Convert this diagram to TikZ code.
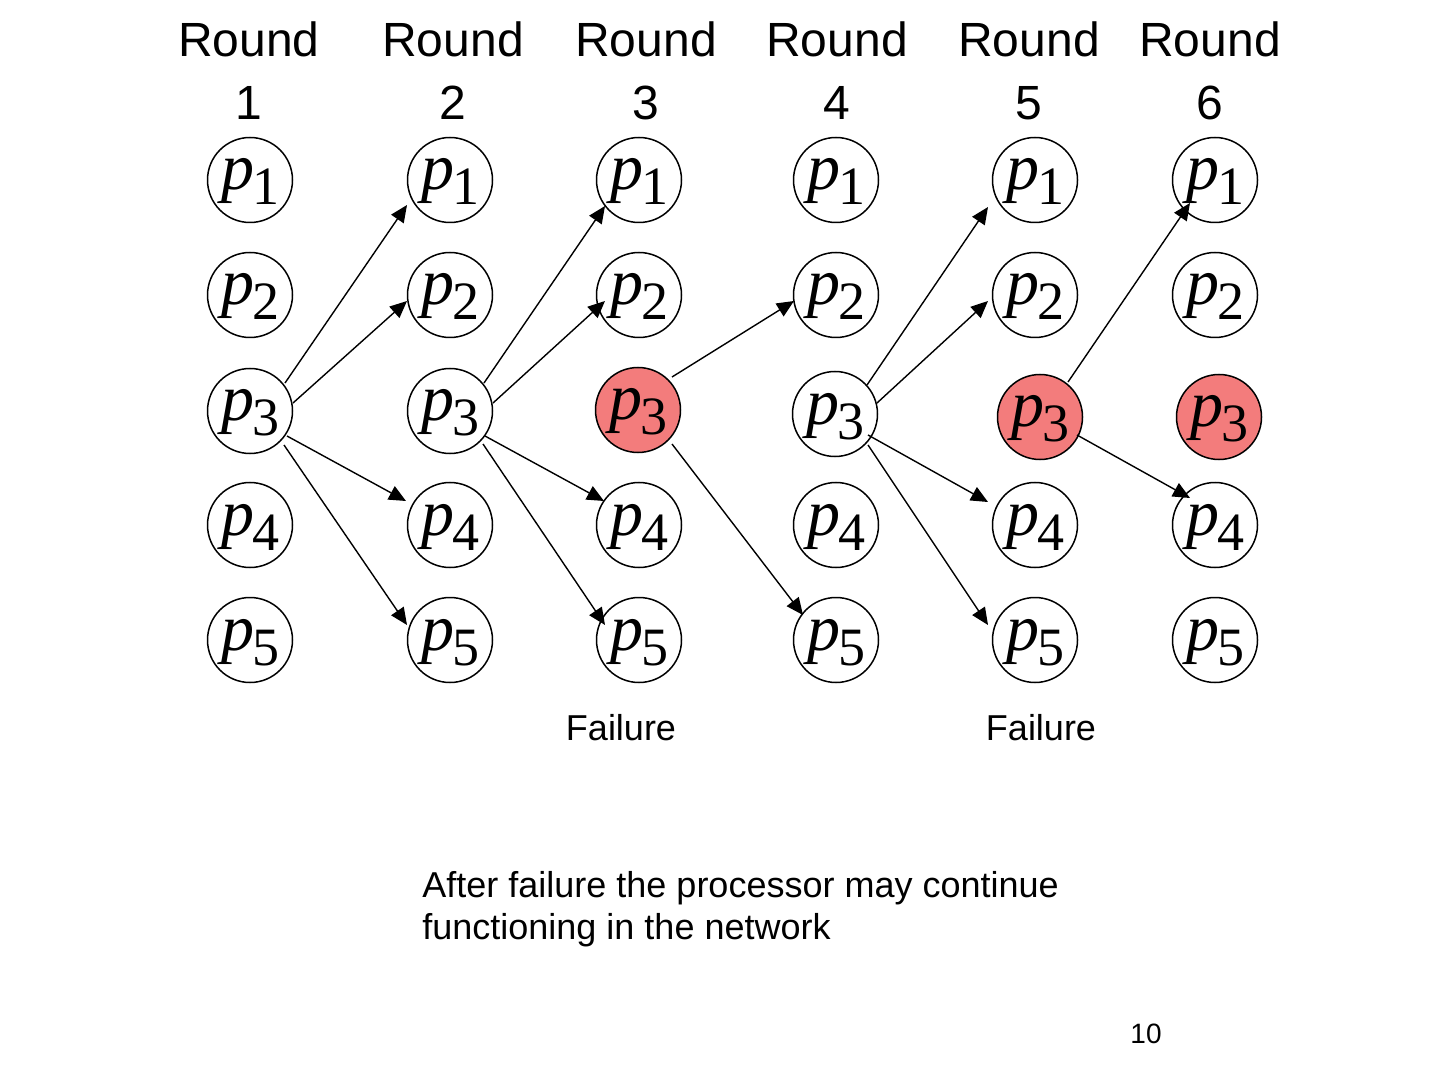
\documentclass[tikz,border=0pt]{standalone}
\usepackage{fontspec}
\setmainfont{Liberation Sans}
\newfontfamily\pfont{Liberation Serif}
\usetikzlibrary{arrows.meta,calc}
\definecolor{failred}{RGB}{243,124,124}
\newcommand{\plab}[1]{{\pfont\fontsize{33}{33}\selectfont\itshape p}\kern-1pt\raisebox{-7.5pt}{\pfont\fontsize{27}{27}\selectfont #1}}
% \msgline{source}{dx,dy}{target}{dx,dy} : offsets in px from node centres (y downwards)
\newcommand{\msgline}[4]{\draw[msg] ($(#1.center)+(#2)$) -- ($(#3.center)+(#4)$);}
\begin{document}
\begin{tikzpicture}[x=0.5pt,y=-0.5pt,
  proc/.style={circle, draw, line width=0.75pt, minimum size=42.5pt, inner sep=0pt, fill=white, text height=17pt, text depth=7pt},
  failed/.style={proc, fill=failred},
  msg/.style={line width=0.7pt, -{Triangle[length=8.5pt,width=7.5pt]}},
  roundlab/.style={anchor=north, align=center, inner sep=0pt, font=\fontsize{24}{31.5}\selectfont},
  faillab/.style={anchor=base, inner sep=0pt, font=\fontsize{18}{21}\selectfont}]
\useasboundingbox (0,0) rectangle (1440,1080);

% round labels
\node[roundlab] (r1) at (249,21) {Round\\1};
\node[roundlab] (r2) at (453,21) {Round\\2};
\node[roundlab] (r3) at (646,21) {Round\\3};
\node[roundlab] (r4) at (837,21) {Round\\4};
\node[roundlab] (r5) at (1029,21) {Round\\5};
\node[roundlab] (r6) at (1210,21) {Round\\6};

% processors
\foreach \c/\x in {1/250,2/450,3/639,4/836,5/1035,6/1215}{
  \node[proc] (a\c-1) at (\x,180) {\plab{1}};
  \node[proc] (a\c-2) at (\x,295) {\plab{2}};
  \node[proc] (a\c-4) at (\x,525) {\plab{4}};
  \node[proc] (a\c-5) at (\x,640) {\plab{5}};
}
\node[proc]   (a1-3) at (250,411) {\plab{3}};
\node[proc]   (a2-3) at (450,411) {\plab{3}};
\node[failed] (a3-3) at (638,410) {\plab{3}};
\node[proc]   (a4-3) at (835,414) {\plab{3}};
\node[failed] (a5-3) at (1040,417) {\plab{3}};
\node[failed] (a6-3) at (1219,417) {\plab{3}};

% messages: round 1 -> 2
\msgline{a1-3}{35,-28}{a2-1}{-43,25}
\msgline{a1-3}{43,-8}{a2-2}{-43,6}
\msgline{a1-3}{37,25}{a2-4}{-44,-24}
\msgline{a1-3}{34,34}{a2-5}{-43,-15}
% round 2 -> 3
\msgline{a2-3}{34,-28}{a3-1}{-34,26}
\msgline{a2-3}{43,-8}{a3-2}{-34,6}
\msgline{a2-3}{35,25}{a3-4}{-35,-24}
\msgline{a2-3}{33,33}{a3-5}{-34,-15}
% round 3 -> 4 (failed p3)
\msgline{a3-3}{34,-33}{a4-2}{-42,6}
\msgline{a3-3}{34,34}{a4-5}{-33,-25}
% round 4 -> 5
\msgline{a4-3}{32,-29}{a5-1}{-47,27}
\msgline{a4-3}{42,-11}{a5-2}{-47,6}
\msgline{a4-3}{33,21}{a5-4}{-47,-23}
\msgline{a4-3}{33,31}{a5-5}{-47,-15}
% round 5 -> 6 (failed p3)
\msgline{a5-3}{28,-35}{a6-1}{-25,23}
\msgline{a5-3}{37,18}{a6-4}{-25,-27}

% labels
\node[faillab] (f1) at (621,740) {Failure};
\node[faillab] (f2) at (1041,740) {Failure};
\node[anchor=north west, align=left, inner sep=0pt, font=\fontsize{18}{21}\selectfont] (note) at (422,871)
  {After failure the processor may continue\\functioning in the network};
\node[font=\fontsize{14}{16}\selectfont, inner sep=0pt] (pg) at (1146,1034) {10};
\end{tikzpicture}
\end{document}
